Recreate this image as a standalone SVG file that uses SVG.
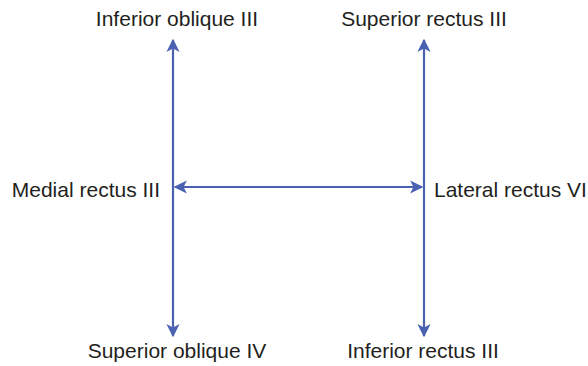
<svg xmlns="http://www.w3.org/2000/svg" width="588" height="366" viewBox="0 0 588 366">
<style>
text{font-family:"Liberation Sans",Arial,sans-serif;font-size:21px;fill:#231f20}
.c{stroke:#4a62b0;stroke-width:2.2;fill:none}
</style>
<defs>
<marker id="ah" viewBox="0 0 10 10" refX="9" refY="5" markerWidth="6" markerHeight="6" orient="auto-start-reverse" markerUnits="strokeWidth">
<path d="M0,0 L10,5 L0,10 L2.5,5 Z" fill="#4a62b0"/>
</marker>
</defs>
<rect width="588" height="366" fill="#fff"/>
<g id="connectors">
<line class="c" x1="173" y1="40" x2="173" y2="336" marker-start="url(#ah)" marker-end="url(#ah)"/>
<line class="c" x1="424" y1="40" x2="424" y2="336" marker-start="url(#ah)" marker-end="url(#ah)"/>
<line class="c" x1="175" y1="187" x2="422" y2="187" marker-start="url(#ah)" marker-end="url(#ah)"/>
</g>
<g id="inferior-oblique"><text x="177" y="26" text-anchor="middle">Inferior oblique III</text></g>
<g id="superior-rectus"><text x="424" y="26" text-anchor="middle">Superior rectus III</text></g>
<g id="medial-rectus"><text x="160" y="197" text-anchor="end">Medial rectus III</text></g>
<g id="lateral-rectus"><text x="434" y="197">Lateral rectus VI</text></g>
<g id="superior-oblique"><text x="177" y="358" text-anchor="middle">Superior oblique IV</text></g>
<g id="inferior-rectus"><text x="423" y="358" text-anchor="middle">Inferior rectus III</text></g>
</svg>
